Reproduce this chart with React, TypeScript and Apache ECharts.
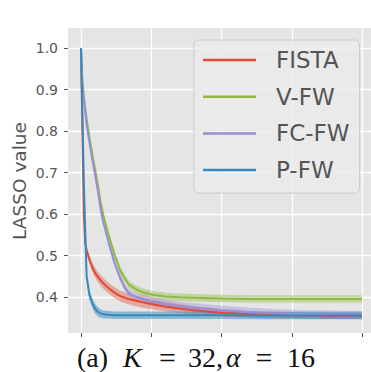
import React, { useEffect, useRef } from "react";
import * as echarts from "echarts";

const X = [0, 0.5, 1, 1.5, 2, 3, 4, 5, 6, 7, 8, 10, 12, 14, 16, 17, 18, 20, 22, 25, 30, 35, 40, 50, 60, 70, 80, 90, 100];

const FISTA = [1.0, 0.8, 0.6, 0.53, 0.512, 0.49, 0.472, 0.458, 0.448, 0.44, 0.432, 0.42, 0.41, 0.402, 0.397, 0.395, 0.393, 0.39, 0.387, 0.383, 0.377, 0.372, 0.368, 0.362, 0.358, 0.356, 0.355, 0.354, 0.354];
const FISTA_HW = [0, 0.003, 0.006, 0.008, 0.009, 0.01, 0.011, 0.012, 0.012, 0.013, 0.013, 0.013, 0.013, 0.013, 0.013, 0.013, 0.013, 0.013, 0.013, 0.012, 0.012, 0.011, 0.01, 0.009, 0.008, 0.008, 0.007, 0.007, 0.007];

const VFW = [1.0, 0.92, 0.885, 0.855, 0.828, 0.785, 0.745, 0.708, 0.67, 0.628, 0.595, 0.545, 0.5, 0.463, 0.44, 0.43, 0.425, 0.417, 0.411, 0.406, 0.401, 0.399, 0.398, 0.396, 0.395, 0.395, 0.395, 0.395, 0.395];
const VFW_HW = [0, 0.004, 0.006, 0.007, 0.007, 0.008, 0.008, 0.008, 0.008, 0.008, 0.008, 0.009, 0.009, 0.009, 0.009, 0.009, 0.009, 0.009, 0.009, 0.009, 0.009, 0.009, 0.009, 0.009, 0.009, 0.009, 0.009, 0.009, 0.009];

const FCFW = [1.0, 0.91, 0.875, 0.845, 0.815, 0.772, 0.732, 0.695, 0.655, 0.61, 0.578, 0.527, 0.48, 0.445, 0.418, 0.41, 0.405, 0.399, 0.395, 0.389, 0.383, 0.378, 0.374, 0.368, 0.363, 0.36, 0.358, 0.357, 0.356];
const FCFW_HW = [0, 0.004, 0.006, 0.007, 0.007, 0.007, 0.007, 0.007, 0.007, 0.007, 0.008, 0.008, 0.008, 0.009, 0.009, 0.009, 0.009, 0.01, 0.01, 0.011, 0.011, 0.011, 0.011, 0.011, 0.011, 0.01, 0.01, 0.01, 0.01];

const PFW = [1.0, 0.84, 0.68, 0.56, 0.45, 0.405, 0.385, 0.372, 0.364, 0.36, 0.358, 0.357, 0.356, 0.356, 0.356, 0.356, 0.356, 0.356, 0.356, 0.356, 0.356, 0.356, 0.356, 0.356, 0.355, 0.355, 0.355, 0.355, 0.355];
const PFW_HW = [0, 0.003, 0.005, 0.007, 0.009, 0.011, 0.012, 0.012, 0.011, 0.01, 0.01, 0.009, 0.009, 0.009, 0.009, 0.009, 0.009, 0.009, 0.009, 0.009, 0.009, 0.009, 0.009, 0.009, 0.009, 0.009, 0.009, 0.009, 0.009];

const NAMES = ["FISTA", "V-FW", "FC-FW", "P-FW"];
const VALUES = [FISTA, VFW, FCFW, PFW];
const HALF_WIDTHS = [FISTA_HW, VFW_HW, FCFW_HW, PFW_HW];
const COLORS = ["#E24A33", "#8EBA42", "#988ED5", "#348ABD"];
const BAND_COLORS = ["rgba(226,74,51,0.4)", "rgba(142,186,66,0.42)", "rgba(152,142,213,0.42)", "rgba(52,138,189,0.5)"];

const X_TICK_MIN = 0;
const X_TICK_MAX = 100;
const X_TICK_STEP = 25;
const Y_TICK_MIN = 0.4;
const Y_TICK_MAX = 1.0;
const Y_TICK_STEP = 0.1;

export default function App() {
  const ref = useRef<HTMLDivElement>(null);
  useEffect(() => {
    if (!ref.current) return;
    const chart = echarts.init(ref.current, undefined, { renderer: "svg" });
    const series: any[] = [];
    NAMES.forEach((name, i) => {
      const v = VALUES[i];
      const hw = HALF_WIDTHS[i];
      const lo = v.map((y, k) => y - hw[k]);
      const hi = v.map((y, k) => y + hw[k]);
      series.push({
        type: "custom",
        name: name + "-band",
        xAxisIndex: 1,
        yAxisIndex: 1,
        data: X.map((x, k) => [x, lo[k], hi[k]]),
        encode: { x: 0, y: [1, 2] },
        silent: true,
        z: 1,
        renderItem: (params: any, api: any) => {
          if (params.dataIndex !== 0) return { type: "group", children: [] };
          const upper = X.map((x, k) => api.coord([x, hi[k]]));
          const lower = X.map((x, k) => api.coord([x, lo[k]])).reverse();
          return {
            type: "polygon",
            shape: { points: upper.concat(lower) },
            style: { fill: BAND_COLORS[i], stroke: "none" },
          };
        },
      });
    });
    NAMES.forEach((name, i) => {
      series.push({
        type: "line",
        name,
        xAxisIndex: 1,
        yAxisIndex: 1,
        data: X.map((x, k) => [x, VALUES[i][k]]),
        symbol: "none",
        color: COLORS[i],
        lineStyle: { width: 2, color: COLORS[i] },
        z: 3,
      });
    });

    const serif = "'Liberation Serif', 'DejaVu Serif', serif";
    chart.setOption({
      animation: false,
      grid: [
        { left: 68, right: 0, top: 48, height: 249, containLabel: false },
        { left: 81, right: 9, top: 28, bottom: 39, containLabel: false },
      ],
      xAxis: [
        { type: "value", gridIndex: 0, min: 0, max: 1, show: false },
        {
          type: "value",
          gridIndex: 1,
          min: X_TICK_MIN,
          max: X_TICK_MAX,
          interval: X_TICK_STEP,
          axisLine: { show: false },
          axisTick: { show: true, length: 4, lineStyle: { color: "#555555", width: 1 } },
          axisLabel: { show: false },
          splitLine: { show: true, lineStyle: { color: "#ffffff", width: 1.3 } },
        },
      ],
      yAxis: [
        {
          type: "value",
          gridIndex: 0,
          min: Y_TICK_MIN,
          max: Y_TICK_MAX,
          interval: Y_TICK_STEP,
          axisLine: { show: false },
          axisTick: { show: true, length: 4, lineStyle: { color: "#555555", width: 1 } },
          axisLabel: {
            show: true,
            margin: 10,
            color: "#555555",
            fontSize: 14,
            fontFamily: "'DejaVu Sans', sans-serif",
            formatter: (v: number) => v.toFixed(1),
          },
          splitLine: { show: true, lineStyle: { color: "#ffffff", width: 1.3 } },
        },
        { type: "value", gridIndex: 1, min: 0.313, max: 1.048, show: false },
      ],
      legend: {
        data: NAMES,
        orient: "vertical",
        left: 194,
        top: 40,
        icon: "rect",
        itemWidth: 53,
        itemHeight: 2.5,
        itemGap: 10.7,
        padding: [7, 10, 10, 9],
        backgroundColor: "rgba(235,235,235,0.8)",
        borderColor: "#cccccc",
        borderWidth: 1,
        borderRadius: 5,
        textStyle: {
          fontSize: 23,
          lineHeight: 26,
          color: "#555555",
          fontFamily: "'DejaVu Sans', sans-serif",
          padding: [0, 0, 0, 15],
        },
      },
      graphic: [
        {
          type: "rect",
          z: -10,
          silent: true,
          shape: { x: 68, y: 28, width: 303, height: 305 },
          style: { fill: "#E5E5E5" },
        },
        {
          type: "text",
          x: 19,
          y: 181,
          rotation: Math.PI / 2,
          style: {
            text: "LASSO value",
            fontSize: 18.5,
            fill: "#555555",
            fontFamily: "'DejaVu Sans', sans-serif",
            align: "center",
            verticalAlign: "middle",
          },
        },
        { type: "text", x: 77, y: 357, style: { text: "(a)", fontSize: 28, fontFamily: serif, fill: "#111", align: "left", verticalAlign: "middle" } },
        { type: "text", x: 123, y: 357, style: { text: "K", fontSize: 28, fontStyle: "italic", fontFamily: serif, fill: "#111", align: "left", verticalAlign: "middle" } },
        { type: "text", x: 167.5, y: 357, style: { text: "=", fontSize: 30, fontFamily: serif, fill: "#111", align: "center", verticalAlign: "middle" } },
        { type: "text", x: 188, y: 357, style: { text: "32,", fontSize: 28, fontFamily: serif, fill: "#111", align: "left", verticalAlign: "middle" } },
        { type: "text", x: 226, y: 357, style: { text: "α", fontSize: 28, fontStyle: "italic", fontFamily: serif, fill: "#111", align: "left", verticalAlign: "middle" } },
        { type: "text", x: 264, y: 357, style: { text: "=", fontSize: 30, fontFamily: serif, fill: "#111", align: "center", verticalAlign: "middle" } },
        { type: "text", x: 287, y: 357, style: { text: "16", fontSize: 28, fontFamily: serif, fill: "#111", align: "left", verticalAlign: "middle" } },
      ],
      series,
    });
    return () => chart.dispose();
  }, []);
  return (
    <div
      ref={ref}
      style={{ position: "absolute", left: 0, top: 0, width: 371, height: 372, background: "#ffffff" }}
    />
  );
}
